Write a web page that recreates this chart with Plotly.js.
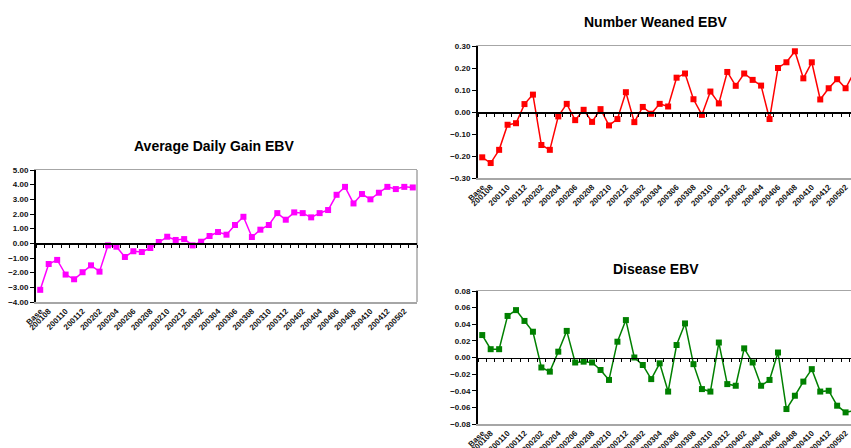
<!DOCTYPE html>
<html>
<head>
<meta charset="utf-8">
<script src="https://cdn.plot.ly/plotly-3.0.1.min.js"></script>
<style>html,body{margin:0;padding:0;background:#fff;}#chart{width:851px;height:448px;}</style>
</head>
<body>
<div id="chart"></div>
<script>
const categories = ["Base",
  "200108","200109","200110","200111","200112",
  "200201","200202","200203","200204","200205","200206","200207","200208","200209","200210","200211","200212",
  "200301","200302","200303","200304","200305","200306","200307","200308","200309","200310","200311","200312",
  "200401","200402","200403","200404","200405","200406","200407","200408","200409","200410","200411","200412",
  "200501","200502","200503"];
const tickLabels = ["Base","200108","200110","200112","200202","200204","200206","200208","200210","200212",
  "200302","200304","200306","200308","200310","200312","200402","200404","200406","200408","200410","200412","200502"];

const adgValues = [-3.17,-1.41,-1.13,-2.13,-2.45,-1.97,-1.50,-1.93,-0.14,-0.23,-0.93,-0.54,-0.59,-0.32,0.09,0.45,0.23,0.29,-0.14,0.11,
  0.50,0.77,0.59,1.25,1.81,0.43,0.93,1.25,2.06,1.61,2.11,2.06,1.77,2.06,2.27,3.31,3.85,2.72,3.36,3.00,3.45,3.85,3.70,3.85,3.81];
const weanedValues = [-0.206,-0.232,-0.172,-0.058,-0.051,0.036,0.079,-0.150,-0.172,-0.020,0.037,-0.037,0.010,-0.045,0.013,-0.061,-0.032,0.090,-0.046,0.023,
  -0.008,0.037,0.025,0.156,0.175,0.058,-0.013,0.093,0.039,0.182,0.119,0.175,0.146,0.120,-0.032,0.200,0.226,0.276,0.153,0.226,0.057,0.108,0.149,0.108,0.18];
const diseaseValues = [0.027,0.010,0.010,0.050,0.057,0.044,0.031,-0.012,-0.017,0.007,0.032,-0.006,-0.005,-0.006,-0.015,-0.027,0.019,0.045,0.000,-0.009,
  -0.026,-0.007,-0.041,0.015,0.041,-0.008,-0.038,-0.041,0.018,-0.032,-0.034,0.011,-0.006,-0.034,-0.027,0.006,-0.062,-0.046,-0.029,-0.014,-0.041,-0.040,-0.058,-0.066,-0.064];

const W = 851, H = 448;
const px = v => v / W;
const py = v => (H - v) / H;

const FONT = "Liberation Sans, Arial, sans-serif";
const tickFont = {family: FONT, size: 8, color: "#111", weight: "bold"};
const xTickFont = {family: FONT, size: 8, color: "#111", weight: "bold"};

// panels: [xLeft, xRight, yTop, yBottom] in pixels
const panels = [
  {xs: [36, 417], ys: [170, 302], yr: [-4, 5], dtick: 1, fmt: ".2f", xr: [-0.5, 44.5], vals: adgValues, color: "#FF00FF"},
  {xs: [478, 851], ys: [46, 178], yr: [-0.3, 0.3], dtick: 0.1, fmt: ".2f", xr: [-0.5, 43.64], vals: weanedValues, color: "#FF0000"},
  {xs: [478, 851], ys: [291, 424], yr: [-0.08, 0.08], dtick: 0.02, fmt: ".2f", xr: [-0.5, 43.64], vals: diseaseValues, color: "#008000"}
];

const data = [];
const layout = {
  width: W, height: H,
  margin: {l: 0, r: 0, t: 0, b: 0},
  paper_bgcolor: "#fff", plot_bgcolor: "#fff",
  showlegend: false,
  font: {family: FONT},
  shapes: [],
  annotations: []
};

panels.forEach((p, i) => {
  const n = i + 1;
  const xa = n === 1 ? "x" : "x" + n;
  const ya = n === 1 ? "y" : "y" + n;
  const za = "x" + (n + 3);
  const xd = [px(p.xs[0]), px(p.xs[1])];
  const yd = [py(p.ys[1]), py(p.ys[0])];
  data.push({
    type: "scatter", mode: "lines+markers",
    x: categories, y: p.vals, xaxis: xa, yaxis: ya,
    line: {color: p.color, width: 1.5},
    marker: {color: p.color, symbol: "square", size: 6},
    cliponaxis: true, hoverinfo: "skip"
  });
  data.push({type: "scatter", x: [], y: [], xaxis: za, yaxis: ya, hoverinfo: "skip"});
  layout["xaxis" + (n === 1 ? "" : n)] = {
    domain: xd, anchor: ya, type: "category", range: p.xr,
    tickmode: "array", tickvals: tickLabels, ticktext: tickLabels,
    tickangle: -45, tickfont: xTickFont, ticks: "",
    showline: true, linecolor: "#a6a6a6", linewidth: 1.5, mirror: true,
    showgrid: false, zeroline: false, fixedrange: true
  };
  layout["yaxis" + (n === 1 ? "" : n)] = {
    domain: yd, anchor: xa, range: p.yr, dtick: p.dtick, tick0: 0,
    tickformat: p.fmt, tickfont: tickFont,
    ticks: "outside", ticklen: 4, tickcolor: "#000", tickwidth: 1,
    showline: true, linecolor: "#000", linewidth: 2,
    showgrid: false, zeroline: false, fixedrange: true
  };
  const zeroPos = yd[0] + (yd[1] - yd[0]) * (0 - p.yr[0]) / (p.yr[1] - p.yr[0]);
  layout["xaxis" + (n + 3)] = {
    overlaying: xa, anchor: "free", position: zeroPos, side: "bottom",
    range: p.xr, tickmode: "linear", tick0: -0.5, dtick: 1,
    ticks: "outside", ticklen: 3, tickcolor: "#000", tickwidth: 1,
    showticklabels: false, showline: true, linecolor: "#000", linewidth: 1.5,
    showgrid: false, zeroline: false, fixedrange: true
  };
  if (n === 1) {
    layout.shapes.push({type: "line", xref: "paper", yref: "paper",
      x0: xd[1], x1: xd[1], y0: yd[0], y1: yd[1], line: {color: "#a6a6a6", width: 1.5}, layer: "below"});
  }
});

const titles = [
  {text: "Average Daily Gain EBV", x: 214, y: 146},
  {text: "Number Weaned EBV", x: 656, y: 22},
  {text: "Disease EBV", x: 656, y: 269}
];
titles.forEach(t => layout.annotations.push({
  text: "<b>" + t.text + "</b>", xref: "paper", yref: "paper",
  x: px(t.x), y: py(t.y), xanchor: "center", yanchor: "middle", showarrow: false,
  font: {family: FONT, size: 14, color: "#000"}
}));

Plotly.newPlot("chart", data, layout, {displayModeBar: false, staticPlot: true});
</script>
</body>
</html>
